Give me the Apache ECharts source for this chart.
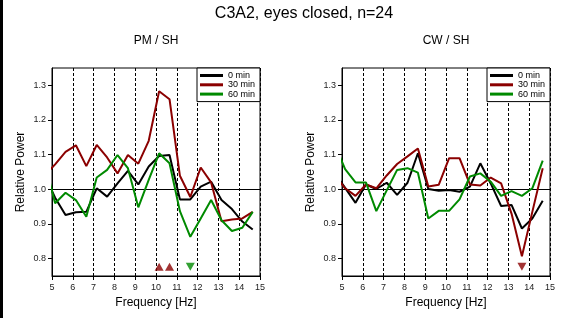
<!DOCTYPE html>
<html>
<head>
<meta charset="utf-8">
<script src="https://cdn.jsdelivr.net/npm/echarts@6/dist/echarts.min.js"></script>
<style>html,body{margin:0;padding:0;background:#fff;}#c{width:563px;height:318px;}</style>
</head>
<body>
<div id="c"></div>
<script>
// Frequencies (Hz) of the spectral bins
const freqs = [4.65, 5.15, 5.65, 6.15, 6.65, 7.15, 7.65, 8.15, 8.65, 9.15, 9.65, 10.15, 10.65, 11.15, 11.65, 12.15, 12.65, 13.15, 13.65, 14.15, 14.65];
// PM / SH
const pm0  = [1.040, 0.976, 0.926, 0.934, 0.935, 1.003, 0.979, 1.017, 1.053, 1.014, 1.066, 1.096, 1.099, 0.971, 0.971, 1.008, 1.022, 0.969, 0.943, 0.907, 0.884];
const pm30 = [1.040, 1.072, 1.108, 1.127, 1.067, 1.128, 1.092, 1.046, 1.099, 1.074, 1.140, 1.283, 1.260, 1.039, 0.978, 1.063, 1.020, 0.908, 0.913, 0.916, 0.935];
const pm60 = [1.077, 0.960, 0.990, 0.969, 0.921, 1.034, 1.056, 1.099, 1.061, 0.948, 1.027, 1.104, 1.075, 0.937, 0.863, 0.916, 0.969, 0.911, 0.880, 0.889, 0.935];
// CW / SH
const cw0  = [1.047, 1.004, 0.961, 1.014, 1.001, 1.019, 0.984, 1.019, 1.104, 1.001, 0.996, 0.998, 0.993, 1.008, 1.075, 1.017, 0.952, 0.955, 0.887, 0.916, 0.967];
const cw30 = [1.040, 1.003, 0.981, 1.014, 1.003, 1.040, 1.073, 1.095, 1.118, 1.008, 1.013, 1.090, 1.090, 1.014, 1.011, 1.034, 1.017, 0.930, 0.807, 0.935, 1.061];
const cw60 = [1.130, 1.058, 1.020, 1.020, 0.937, 0.997, 1.056, 1.061, 1.048, 0.916, 0.938, 0.938, 0.971, 1.037, 1.046, 1.022, 0.981, 0.995, 0.981, 1.003, 1.083];
// significance markers (frequency positions), drawn at a fixed level
const sigPM30up = [10.15, 10.65];
const sigPM60down = [11.65];
const sigCW30down = [13.65];
const sigLevel = 0.777;
// tick labels
const xTicks = [5, 6, 7, 8, 9, 10, 11, 12, 13, 14, 15];
const yTicks = [0.8, 0.9, 1.0, 1.1, 1.2, 1.3];
const seriesNames = ['0 min', '30 min', '60 min'];
const colors = ['#000000', '#8b0000', '#008a00'];

const FONT = 'Liberation Sans, Arial, Helvetica, sans-serif';
const pairs = (ys) => freqs.map((f, i) => [f, ys[i]]);
const gridDefs = [{left: 52, top: 68, width: 208, height: 208}, {left: 342, top: 68, width: 208, height: 208}];

const chart = echarts.init(document.getElementById('c'), null, {renderer: 'canvas'});

function lineSeries(name, ys, idx, g, withRef) {
  const s = {
    name: name, type: 'line', xAxisIndex: g, yAxisIndex: g,
    data: pairs(ys), showSymbol: false, symbol: 'none', clip: true,
    lineStyle: {color: colors[idx], width: 2}, itemStyle: {color: colors[idx]},
    z: 3 + idx
  };
  if (withRef) {
    s.markLine = {silent: true, symbol: 'none', label: {show: false},
      lineStyle: {color: '#000', width: 1, type: 'solid'}, data: [{yAxis: 1.0}], z: 2};
  }
  return s;
}
function sigSeries(xs, color, down, g) {
  return {type: 'scatter', xAxisIndex: g, yAxisIndex: g, symbol: 'triangle',
    symbolSize: [9, 8], symbolRotate: down ? 180 : 0,
    itemStyle: {color: color}, data: xs.map(x => [x, sigLevel]), z: 6, silent: true};
}

const option = {
  animation: false,
  backgroundColor: '#fff',
  textStyle: {fontFamily: FONT},
  graphic: [
    {type: 'rect', shape: {x: 0, y: 0, width: 3, height: 318}, style: {fill: '#000'}},
    {type: 'text', x: 304, y: 14, style: {text: 'C3A2, eyes closed, n=24', font: '16px ' + FONT, fill: '#000', textAlign: 'center', textVerticalAlign: 'middle', verticalAlign: 'middle'}},
    {type: 'text', x: 156, y: 41, style: {text: 'PM / SH', font: '12px ' + FONT, fill: '#000', textAlign: 'center', textVerticalAlign: 'middle', verticalAlign: 'middle'}},
    {type: 'text', x: 446, y: 41, style: {text: 'CW / SH', font: '12px ' + FONT, fill: '#000', textAlign: 'center', textVerticalAlign: 'middle', verticalAlign: 'middle'}}
  ],
  grid: gridDefs.map(g => Object.assign({show: true, borderColor: '#000', borderWidth: 1, backgroundColor: 'transparent', containLabel: false}, g)),
  xAxis: [0, 1].map(i => ({
    gridIndex: i, type: 'value', min: xTicks[0], max: xTicks[xTicks.length - 1], interval: 1,
    axisLine: {show: true, onZero: false, lineStyle: {color: '#000', width: 1}},
    axisTick: {show: true, length: 4, inside: false, lineStyle: {color: '#000'}},
    axisLabel: {fontSize: 9, color: '#222', margin: 7, fontFamily: FONT},
    splitLine: {show: true, lineStyle: {type: [3, 2], color: '#000', width: 1}},
    name: 'Frequency [Hz]', nameLocation: 'middle', nameGap: 20,
    nameTextStyle: {fontSize: 12, color: '#000', fontFamily: FONT}
  })),
  yAxis: [0, 1].map(i => ({
    gridIndex: i, type: 'value', min: 0.75, max: 1.35,
    axisLine: {show: true, onZero: false, lineStyle: {color: '#000', width: 1}},
    axisTick: {show: true, length: 4, inside: false, customValues: yTicks, lineStyle: {color: '#000'}},
    axisLabel: {fontSize: 9, color: '#222', margin: 6, customValues: yTicks, fontFamily: FONT,
      formatter: v => Number(v).toFixed(1)},
    splitLine: {show: false},
    name: 'Relative Power', nameLocation: 'middle', nameGap: 25, nameRotate: 90,
    nameTextStyle: {fontSize: 12, color: '#000', fontFamily: FONT}
  })),
  legend: [0, 1].map(i => ({
    data: seriesNames, orient: 'vertical', left: gridDefs[i].left + 145, top: 68,
    icon: 'rect', itemWidth: 23, itemHeight: 3, itemGap: 0.3,
    padding: [3, 5, 3, 3], borderColor: '#000', borderWidth: 1, backgroundColor: '#fff',
    selectedMode: false, z: 10,
    textStyle: {fontSize: 9, lineHeight: 9, color: '#000', fontFamily: FONT}
  })),
  series: [
    lineSeries(seriesNames[0], pm0, 0, 0, true),
    lineSeries(seriesNames[1], pm30, 1, 0, false),
    lineSeries(seriesNames[2], pm60, 2, 0, false),
    lineSeries(seriesNames[0], cw0, 0, 1, true),
    lineSeries(seriesNames[1], cw30, 1, 1, false),
    lineSeries(seriesNames[2], cw60, 2, 1, false),
    sigSeries(sigPM30up, colors[1], false, 0),
    sigSeries(sigPM60down, colors[2], true, 0),
    sigSeries(sigCW30down, colors[1], true, 1)
  ]
};
chart.setOption(option);
</script>
</body>
</html>
